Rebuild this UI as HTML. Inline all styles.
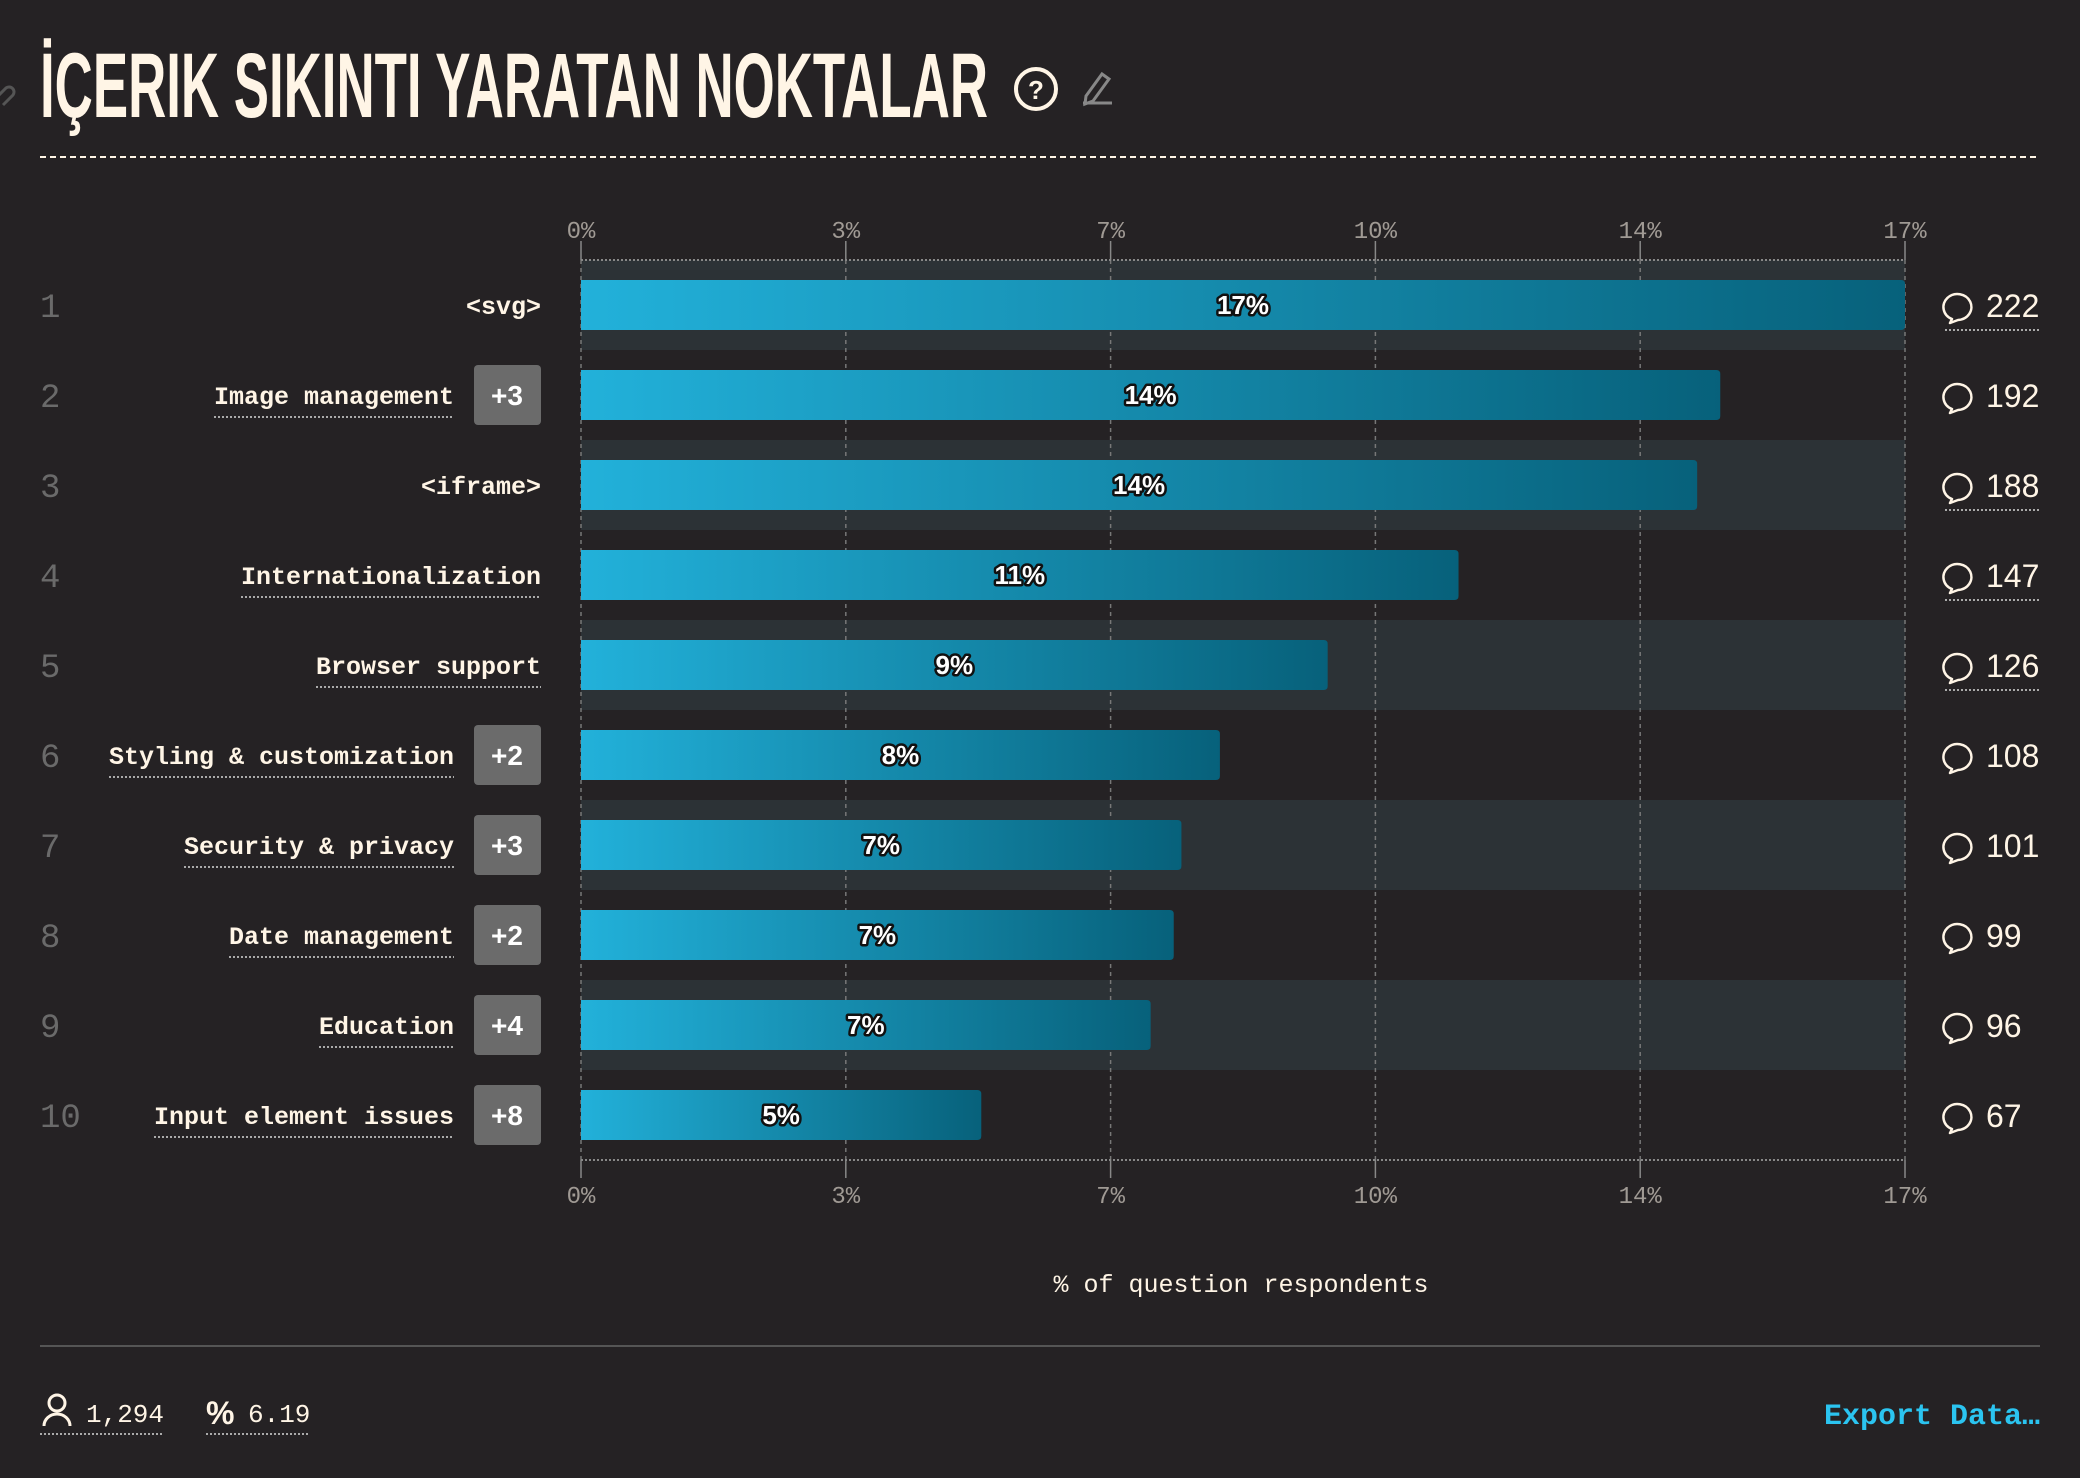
<!DOCTYPE html>
<html><head><meta charset="utf-8">
<style>
html,body{margin:0;padding:0;background:#252224;}
svg{display:block}
.mono{font-family:"Liberation Mono",monospace}
.sans{font-family:"Liberation Sans",sans-serif}
</style></head>
<body>
<svg id="chart" width="2080" height="1478" viewBox="0 0 2080 1478" xmlns="http://www.w3.org/2000/svg">
<defs>
<linearGradient id="barGrad" x1="0" y1="0" x2="1" y2="0">
<stop offset="0" stop-color="#22b1da"/><stop offset="1" stop-color="#07617b"/>
</linearGradient>
</defs>
<rect width="2080" height="1478" fill="#252224"/>
<g><path d="M-4 98 l10 -10 a5 5 0 0 1 7 7 l-10 10" stroke="#555" stroke-width="3" fill="none"/></g>
<text x="40" y="117" class="sans" font-weight="bold" font-size="92" fill="#fff5e6" textLength="948" lengthAdjust="spacingAndGlyphs">İÇERIK SIKINTI YARATAN NOKTALAR</text>
<g><circle cx="1036" cy="89" r="20" fill="none" stroke="#fff5e6" stroke-width="4"/><text x="1036" y="99" text-anchor="middle" class="sans" font-weight="bold" font-size="26" fill="#fff5e6">?</text></g>
<g><path d="M1086 96 l16 -22 l7 5 l-16 22 l-8 3 z" fill="none" stroke="#888" stroke-width="3"/><line x1="1083" y1="103" x2="1112" y2="103" stroke="#888" stroke-width="3"/></g>
<line x1="40" y1="157" x2="2040" y2="157" stroke="#fff5e6" stroke-width="2" stroke-dasharray="6 4"/>
<g id="plot"></g>
<text x="1241" y="1292" text-anchor="middle" class="mono" font-size="25" fill="#fff5e6">% of question respondents</text>
<line x1="40" y1="1346" x2="2040" y2="1346" stroke="#555" stroke-width="2"/>
<g>
<circle cx="57" cy="1403" r="8" fill="none" stroke="#fff5e6" stroke-width="3"/>
<path d="M44 1426 a13 12 0 0 1 26 0" fill="none" stroke="#fff5e6" stroke-width="3"/>
<text x="86" y="1422" class="mono" font-size="26" fill="#fff5e6">1,294</text>
<line x1="40" y1="1434" x2="163" y2="1434" stroke="#aaa" stroke-width="2" stroke-dasharray="2 2"/>
</g>
<g>
<text x="206" y="1424" class="sans" font-weight="bold" font-size="32" fill="#fff5e6">%</text>
<text x="248" y="1422" class="mono" font-size="26" fill="#fff5e6">6.19</text>
<line x1="206" y1="1434" x2="310" y2="1434" stroke="#aaa" stroke-width="2" stroke-dasharray="2 2"/>
</g>
<text x="2040" y="1424" text-anchor="end" class="mono" font-weight="bold" font-size="30" fill="#2bc4f0">Export Data…</text>
</svg>
<script>
const categories = ["<svg>","Image management","<iframe>","Internationalization","Browser support","Styling & customization","Security & privacy","Date management","Education","Input element issues"];
const extras = ["","+3","","","","+2","+3","+2","+4","+8"];
const counts = [222,192,188,147,126,108,101,99,96,67];
const percents = [17.2,14.8,14.5,11.4,9.7,8.3,7.8,7.7,7.4,5.2];
const underlined = [false,true,false,true,true,true,true,true,true,true];
const countUnderlined = [true,false,true,true,true,false,false,false,false,false];
const tickLabels = ["0%","3%","7%","10%","14%","17%"];

const NS="http://www.w3.org/2000/svg";
const plotG=document.getElementById('plot');
const x0=581,x1=1905,topY=260,rowH=90;
const xMax=Math.max(...percents);
const xs=v=>x0+(v/xMax)*(x1-x0);
const yRow=i=>topY+i*rowH;
function mk(t,a){const e=document.createElementNS(NS,t);for(const k in a)e.setAttribute(k,a[k]);plotG.appendChild(e);return e;}

categories.forEach((c,i)=>{ if(i%2===0){
 const b=mk('rect',{x:x0,y:yRow(i),width:x1-x0,height:rowH,fill:'#2c3236'});
 
 
}});
tickLabels.forEach((t,k)=>{
 const x=x0+k*(x1-x0)/(tickLabels.length-1);
 const gl=mk('line',{x1:x,y1:topY,x2:x,y2:topY+rowH*categories.length,stroke:'#777','stroke-width':1.5,'stroke-dasharray':'4 4'});
 
 
 [[241,topY],[topY+rowH*10,topY+rowH*10+18]].forEach(([a,b])=>{mk('line',{x1:x,y1:a,x2:x,y2:b,stroke:'#888','stroke-width':1.5});});
 [238,1203].forEach(yy=>{
  const tl=mk('text',{x:x,y:yy,'text-anchor':'middle','class':'mono','font-size':24,fill:'#a09a94'});
  tl.textContent=t;
  
  
 });
});
[topY,topY+rowH*10].forEach(yy=>{
 const al=mk('line',{x1:x0,y1:yy,x2:x1,y2:yy,stroke:'#888','stroke-width':2,'stroke-dasharray':'2 2'});
 
 
});
categories.forEach((c,i)=>{
 const cy=yRow(i)+rowH/2;
 const rk=mk('text',{x:40,y:cy+12,'class':'mono','font-size':34,fill:'#6a6a6a'});
 rk.textContent=String(i+1);
 
 
 const hasX=extras[i]!=="";
 const tx=hasX?454:541;
 const lb=mk('text',{x:tx,y:cy+9,'text-anchor':'end','class':'mono','font-weight':'bold','font-size':25,fill:'#fff5e6'});
 lb.textContent=c;
 
 
 if(underlined[i]){
  const w=c.length*15.0;
  mk('line',{x1:tx-w,y1:cy+22,x2:tx,y2:cy+22,stroke:'#aaa','stroke-width':2,'stroke-dasharray':'2 2'});
 }
 if(hasX){
  const bd=mk('rect',{x:474,y:cy-30,width:67,height:60,rx:4,fill:'#6b6b6b'});
  
  
  const bt=mk('text',{x:507,y:cy+10,'text-anchor':'middle','class':'sans','font-weight':'bold','font-size':28,fill:'#fff'});
  bt.textContent=extras[i];
  
  
 }
 const bh=50;
 const bar=mk('path',{d:`M${x0} ${cy-bh/2} H${xs(percents[i])-4} q4 0 4 4 V${cy+bh/2-4} q0 4 -4 4 H${x0} Z`,fill:'url(#barGrad)'});
 
 
 const bv=mk('text',{x:(x0+xs(percents[i]))/2,y:cy+9,'text-anchor':'middle','class':'sans','font-weight':'bold','font-size':26,fill:'#fff',stroke:'#111','stroke-width':5,'paint-order':'stroke','stroke-linejoin':'round'});
 bv.textContent=Math.floor(percents[i])+'%';
 
 
 const ic=mk('path',{d:`M1952 ${cy+14} l-2 4 l8 -3 a14 13 0 1 0 -6 -1 z`,fill:'none',stroke:'#fff5e6','stroke-width':2.5,'stroke-linejoin':'round'});
 
 
 const ct=mk('text',{x:1986,y:cy+12,'class':'sans','font-size':32,fill:'#fff5e6'});
 ct.textContent=counts[i];
 
 
 if(countUnderlined[i]){
  mk('line',{x1:1945,y1:cy+25,x2:2040,y2:cy+25,stroke:'#aaa','stroke-width':2,'stroke-dasharray':'2 2'});
 }
});
</script>
</body></html>
